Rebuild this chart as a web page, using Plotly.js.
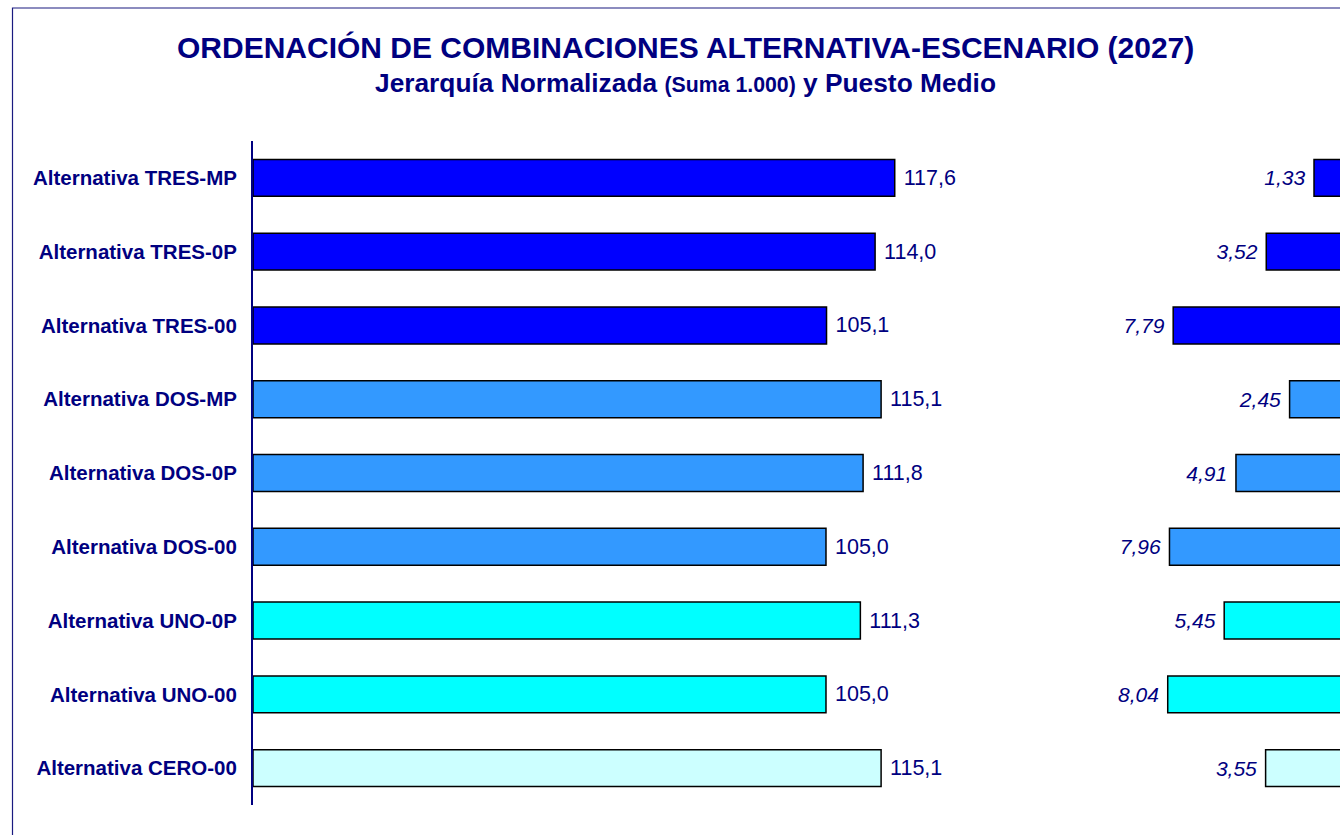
<!DOCTYPE html>
<html>
<head>
<meta charset="utf-8">
<script src="https://cdn.plot.ly/plotly-3.0.1.min.js"></script>
<style>
html,body{margin:0;padding:0;overflow:hidden;background:#fff;}
#chart{width:1360px;height:835px;}
</style>
</head>
<body>
<div id="chart"></div>
<script>
// ---- data ----
const categories = [
  'Alternativa TRES-MP', 'Alternativa TRES-0P', 'Alternativa TRES-00',
  'Alternativa DOS-MP', 'Alternativa DOS-0P', 'Alternativa DOS-00',
  'Alternativa UNO-0P', 'Alternativa UNO-00', 'Alternativa CERO-00'
];
const jerarquia = [117.6, 114.0, 105.1, 115.1, 111.8, 105.0, 111.3, 105.0, 115.1];
const puestoMedio = [1.33, 3.52, 7.79, 2.45, 4.91, 7.96, 5.45, 8.04, 3.55];
const barColors = ['#0000FF', '#0000FF', '#0000FF', '#3399FF', '#3399FF', '#3399FF', '#00FFFF', '#00FFFF', '#CCFFFF'];

const titleText = 'ORDENACIÓN DE COMBINACIONES ALTERNATIVA-ESCENARIO (2027)';
const subtitleMain1 = 'Jerarquía Normalizada ';
const subtitleSmall = '(Suma 1.000)';
const subtitleMain2 = ' y Puesto Medio';

// ---- styling ----
const NAVY = '#000080';
const FONT = 'Liberation Sans, Arial, Helvetica, sans-serif';
const W = 1360, H = 835;

const traces = [
  {
    type: 'bar', orientation: 'h',
    x: jerarquia, y: categories,
    xaxis: 'x', yaxis: 'y',
    marker: {color: barColors, line: {color: '#000000', width: 1.5}},
    texttemplate: '\u00a0%{x:.1f}',
    textposition: 'outside',
    constraintext: 'none',
    cliponaxis: false,
    textfont: {family: FONT, size: 21.5, color: NAVY},
    hoverinfo: 'skip'
  },
  {
    type: 'bar', orientation: 'h',
    x: puestoMedio, y: categories,
    xaxis: 'x2', yaxis: 'y',
    marker: {color: barColors, line: {color: '#000000', width: 1.5}},
    texttemplate: '%{x:.2f}\u00a0',
    textposition: 'outside',
    constraintext: 'none',
    cliponaxis: false,
    textfont: {family: FONT, size: 21, color: NAVY, style: 'italic'},
    hoverinfo: 'skip'
  }
];

const layout = {
  width: W, height: H, autosize: false,
  margin: {l: 0, r: 0, t: 0, b: 0, pad: 0},
  paper_bgcolor: '#ffffff', plot_bgcolor: 'rgba(0,0,0,0)',
  separators: ',.',
  showlegend: false,
  bargap: 0.5,
  font: {family: FONT, color: NAVY},
  xaxis: {
    domain: [253 / W, 1000 / W], range: [0, 747 / 5.457],
    showgrid: false, zeroline: false, showline: false, showticklabels: false, ticks: ''
  },
  xaxis2: {
    domain: [1050 / W, 1], range: [(1343 - 1050) / 21.8, (1343 - W) / 21.8],
    anchor: 'y',
    showgrid: false, zeroline: false, showline: false, showticklabels: false, ticks: ''
  },
  yaxis: {
    domain: [30 / H, 694 / H],
    type: 'category', categoryorder: 'array', categoryarray: categories,
    range: [8.5, -0.5],
    anchor: 'x',
    showline: true, linecolor: NAVY, linewidth: 2,
    ticks: '', showgrid: false, zeroline: false,
    ticklabelstandoff: 10,
    tickfont: {family: FONT, size: 20.5, color: NAVY, weight: 'bold'}
  },
  annotations: [
    {
      text: '<b>' + titleText + '</b>',
      xref: 'paper', yref: 'paper', x: 685 / W, y: 1 - 48 / H,
      xanchor: 'center', yanchor: 'middle', showarrow: false,
      font: {family: FONT, size: 30, color: NAVY}
    },
    {
      text: '<b>' + subtitleMain1 + '<span style="font-size:21.3px">' + subtitleSmall + '</span>' + subtitleMain2 + '</b>',
      xref: 'paper', yref: 'paper', x: 685 / W, y: 1 - 82.5 / H,
      xanchor: 'center', yanchor: 'middle', showarrow: false,
      font: {family: FONT, size: 26.3, color: NAVY}
    }
  ],
  shapes: [
    {
      type: 'rect', xref: 'paper', yref: 'paper',
      x0: 12.5 / W, x1: 1.05, y0: -0.05, y1: 1 - 8 / H,
      line: {color: '#1a1a80', width: 1.2}, fillcolor: 'rgba(0,0,0,0)', layer: 'below'
    }
  ]
};

Plotly.newPlot('chart', traces, layout, {staticPlot: true, displayModeBar: false});
</script>
</body>
</html>
